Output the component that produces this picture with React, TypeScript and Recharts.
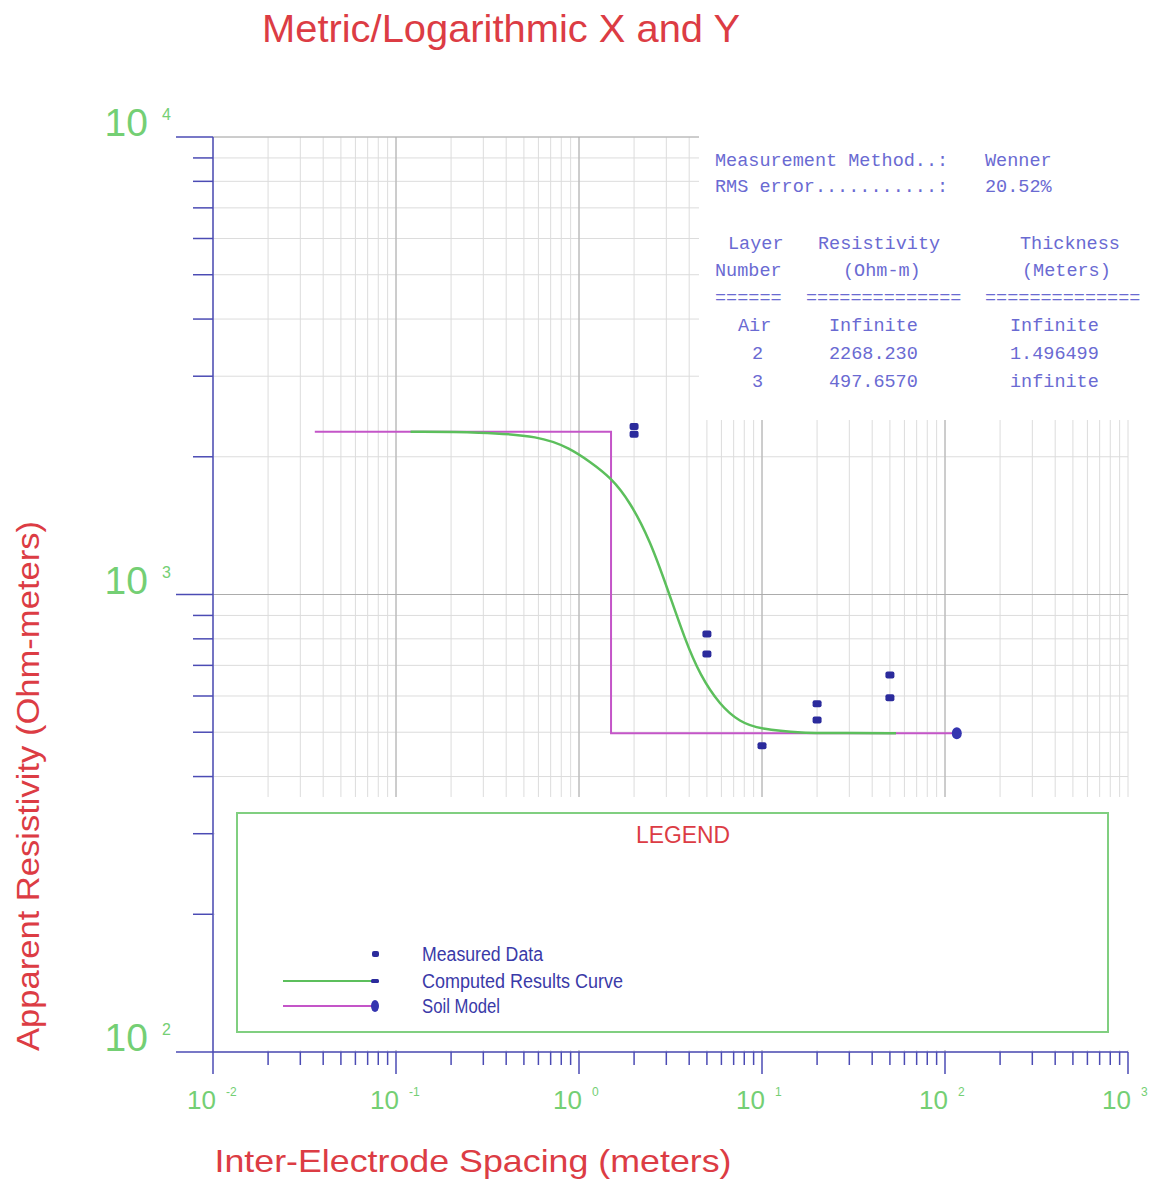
import { ComposedChart, XAxis, YAxis, CartesianGrid, Line, Scatter, ReferenceLine } from 'recharts';

// tick positions (decades + minor steps)
const X_DECADES = [0.01, 0.1, 1, 10, 100, 1000];
const Y_DECADES = [100, 1000, 10000];
const MANTISSA = [1, 2, 3, 4, 5, 6, 7, 8, 9];
const X_TICKS = [...X_DECADES.slice(0, -1).flatMap((d) => MANTISSA.map((m) => d * m)), 1000];
const Y_TICKS = [...Y_DECADES.slice(0, -1).flatMap((d) => MANTISSA.map((m) => d * m)), 10000];

// measured data (spacing m, ohm-m)
const measuredX = [2, 2, 5, 5, 10, 20, 20, 50, 50];
const measuredY = [2330, 2240, 820, 741, 467, 577, 532, 667, 595];

// computed results curve
const computedX = [0.12, 0.29, 0.61, 0.89, 1.15, 1.5, 1.9, 2.44, 3.06, 3.8, 4.58, 5.89, 7.58, 9.75, 16.1, 30.3, 54];
const computedY = [2268, 2265, 2220, 2089, 1950, 1799, 1594, 1315, 1023, 796, 667, 573, 526, 508, 498, 497.7, 497.7];

// soil model (two layers)
const soilX = [0.036, 1.496499, 1.496499, 116];
const soilY = [2268.23, 2268.23, 497.657, 497.657];

const measured = measuredX.map((x, i) => ({ x, y: measuredY[i] }));
const computed = computedX.map((x, i) => ({ x, y: computedY[i] }));
const soil = soilX.map((x, i) => ({ x, y: soilY[i] }));

const AXIS = '#4b4bb4';
const TICK_GREEN = '#74cf74';
const RED = '#dc3c44';
const SANS = "'Liberation Sans', Arial, sans-serif";
const MONO = "'Liberation Mono', 'Courier New', monospace";
const PANEL_BLUE = '#6a6ad2';
const LEGEND_BLUE = '#3a3aa8';

const isDecade = (v: number) => Math.abs(Math.log10(v) - Math.round(Math.log10(v))) < 1e-6;

function XTick(props: any) {
  const { x, y, payload } = props;
  const v = payload.value as number;
  const dec = isDecade(v);
  const exp = Math.round(Math.log10(v));
  return (
    <g>
      <line x1={x} x2={x} y1={y} y2={y + (dec ? 22 : 13)} stroke={AXIS} strokeWidth={1.5} />
      {dec && (
        <text fontFamily={SANS} fill={TICK_GREEN}>
          <tspan x={x + 3} y={y + 57} textAnchor="end" fontSize={26}>10</tspan>
          <tspan x={x + 13} y={y + 44} fontSize={12}>{exp}</tspan>
        </text>
      )}
    </g>
  );
}

function YTick(props: any) {
  const { x, y, payload } = props;
  const v = payload.value as number;
  const dec = isDecade(v);
  const exp = Math.round(Math.log10(v));
  return (
    <g>
      <line x1={x - (dec ? 37 : 20)} x2={x} y1={y} y2={y} stroke={AXIS} strokeWidth={1.5} />
      {dec && (
        <text fontFamily={SANS} fill={TICK_GREEN}>
          <tspan x={x - 65} y={y - 1} textAnchor="end" fontSize={39}>10</tspan>
          <tspan x={x - 51} y={y - 17} fontSize={16}>{exp}</tspan>
        </text>
      )}
    </g>
  );
}

const MeasuredMark = (p: any) => (
  <rect x={p.cx - 4.5} y={p.cy - 3.5} width={9} height={7} rx={2} fill="#2b2b9c" />
);

const SoilDot = (p: any) =>
  p.index === soil.length - 1 ? (
    <ellipse key={p.index} cx={p.cx} cy={p.cy} rx={5} ry={6} fill="#3535b0" />
  ) : (
    <g key={p.index} />
  );

const panelRows: [number, number, string][] = [
  [715, 166, 'Measurement Method..:'],
  [985, 166, 'Wenner'],
  [715, 192, 'RMS error...........:'],
  [985, 192, '20.52%'],
  [728, 249, 'Layer'],
  [818, 249, 'Resistivity'],
  [1020, 249, 'Thickness'],
  [715, 276, 'Number'],
  [843, 276, '(Ohm-m)'],
  [1022, 276, '(Meters)'],
  [715, 303, '======'],
  [806, 303, '=============='],
  [985, 303, '=============='],
  [738, 331, 'Air'],
  [829, 331, 'Infinite'],
  [1010, 331, 'Infinite'],
  [752, 359, '2'],
  [829, 359, '2268.230'],
  [1010, 359, '1.496499'],
  [752, 387, '3'],
  [829, 387, '497.6570'],
  [1010, 387, 'infinite'],
];

export default function App() {
  return (
    <div style={{ position: 'absolute', left: 0, top: 0, width: 1164, height: 1180, background: '#fff' }}>
      <ComposedChart
        width={1164}
        height={1180}
        margin={{ top: 137, right: 36, bottom: 98, left: 153 }}
      >
        <CartesianGrid stroke="#dcdcdc" strokeWidth={1} />
        {X_DECADES.slice(1, -1).map((v) => (
          <ReferenceLine key={'xd' + v} x={v} stroke="#acacac" strokeWidth={1} />
        ))}
        {Y_DECADES.slice(1).map((v) => (
          <ReferenceLine key={'yd' + v} y={v} stroke="#acacac" strokeWidth={1} />
        ))}
        <XAxis
          dataKey="x"
          type="number"
          scale="log"
          domain={[0.01, 1000]}
          ticks={X_TICKS}
          interval={0}
          allowDataOverflow
          height={30}
          tickSize={0}
          tickMargin={0}
          tickLine={false}
          axisLine={{ stroke: AXIS, strokeWidth: 1.5 }}
          tick={<XTick />}
        />
        <YAxis
          dataKey="y"
          type="number"
          scale="log"
          domain={[100, 10000]}
          ticks={Y_TICKS}
          interval={0}
          allowDataOverflow
          width={60}
          tickSize={0}
          tickMargin={0}
          tickLine={false}
          axisLine={{ stroke: AXIS, strokeWidth: 1.5 }}
          tick={<YTick />}
        />
        <Line
          data={soil}
          dataKey="y"
          type="linear"
          stroke="#c455c8"
          strokeWidth={2}
          dot={SoilDot}
          activeDot={false}
          isAnimationActive={false}
        />
        <Line
          data={computed}
          dataKey="y"
          type="basis"
          stroke="#5cbf5c"
          strokeWidth={2.5}
          dot={false}
          activeDot={false}
          isAnimationActive={false}
        />
        <Scatter data={measured} dataKey="y" shape={MeasuredMark} isAnimationActive={false} />
      </ComposedChart>

      <svg
        width={1164}
        height={1180}
        style={{ position: 'absolute', left: 0, top: 0, pointerEvents: 'none' }}
      >
        {/* info panel and legend area sit on white */}
        <rect x={699} y={128} width={462} height={292} fill="#fff" />
        <rect x={215} y={797} width={914} height={253} fill="#fff" />
        <rect x={237} y={813} width={871} height={219} fill="none" stroke="#80cf80" strokeWidth={2} />

        <text x={501} y={42} textAnchor="middle" fontFamily={SANS} fontSize={39} fill={RED} textLength={478} lengthAdjust="spacingAndGlyphs">
          Metric/Logarithmic X and Y
        </text>
        <text
          transform="translate(28 786) rotate(-90)"
          textAnchor="middle"
          dominantBaseline="central"
          fontFamily={SANS}
          fontSize={31}
          fill={RED}
          textLength={530}
          lengthAdjust="spacingAndGlyphs"
        >
          Apparent Resistivity (Ohm-meters)
        </text>
        <text x={473} y={1172} textAnchor="middle" fontFamily={SANS} fontSize={32} fill={RED} textLength={517} lengthAdjust="spacingAndGlyphs">
          Inter-Electrode Spacing (meters)
        </text>

        {panelRows.map(([x, y, s], i) => (
          <text key={i} x={x} y={y} fontFamily={MONO} fontSize={18.5} fill={PANEL_BLUE}>
            {s}
          </text>
        ))}

        <text x={683} y={843} textAnchor="middle" fontFamily={SANS} fontSize={23} fill={RED} textLength={94} lengthAdjust="spacingAndGlyphs">
          LEGEND
        </text>
        <rect x={372} y={951} width={7} height={6} rx={2} fill="#2b2b9c" />
        <line x1={283} x2={375} y1={981} y2={981} stroke="#5cbf5c" strokeWidth={2} />
        <rect x={371} y={979} width={8} height={4} rx={1.5} fill="#2b2b9c" />
        <line x1={283} x2={375} y1={1006} y2={1006} stroke="#c455c8" strokeWidth={2} />
        <ellipse cx={375} cy={1006} rx={4} ry={6} fill="#3535b0" />
        <text x={422} y={961} fontFamily={SANS} fontSize={20} fill={LEGEND_BLUE} textLength={121} lengthAdjust="spacingAndGlyphs">
          Measured Data
        </text>
        <text x={422} y={988} fontFamily={SANS} fontSize={20} fill={LEGEND_BLUE} textLength={201} lengthAdjust="spacingAndGlyphs">
          Computed Results Curve
        </text>
        <text x={422} y={1013} fontFamily={SANS} fontSize={20} fill={LEGEND_BLUE} textLength={78} lengthAdjust="spacingAndGlyphs">
          Soil Model
        </text>
      </svg>
    </div>
  );
}
